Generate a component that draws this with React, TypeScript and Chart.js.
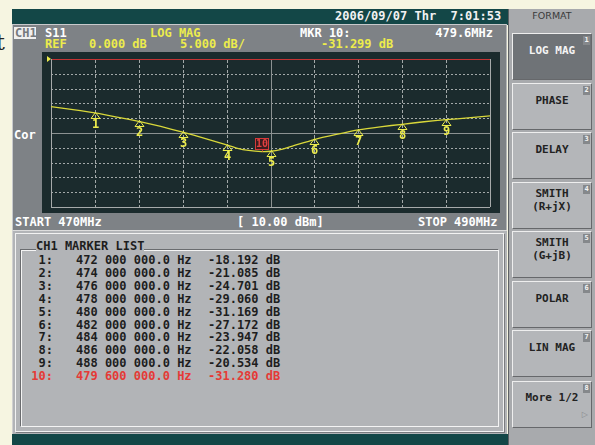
import React, { useEffect, useRef } from "react";
import { Chart, registerables } from "chart.js";

Chart.register(...registerables);

// ---- data ----
const traceFreqMHz = [470, 471, 472, 473, 474, 475, 476, 477, 478, 478.5, 479, 479.6, 480, 480.5, 481, 482, 483, 484, 485, 486, 487, 488, 489, 490];
const traceDb = [-16.1, -17.1, -18.2, -19.6, -21.1, -22.8, -24.7, -26.8, -29.0, -30.2, -30.9, -31.28, -31.17, -30.5, -29.4, -27.2, -25.5, -23.95, -22.9, -22.06, -21.2, -20.5, -19.9, -19.2];

const markerLabels = ["1", "2", "3", "4", "5", "6", "7", "8", "9"];
const markerFreqMHz = [472, 474, 476, 478, 480, 482, 484, 486, 488];
const markerDb = [-18.192, -21.085, -24.701, -29.06, -31.169, -27.172, -23.947, -22.058, -20.534];
const activeMarkerLabel = "10";
const activeMarkerFreqMHz = 479.6;
const activeMarkerDb = -31.28;

const xGridMHz = [470, 472, 474, 476, 478, 480, 482, 484, 486, 488, 490];
const yGridDb = [0, -5, -10, -15, -20, -25, -30, -35, -40, -45, -50];
const refLevelDb = 0;
const centerFreqMHz = 480;
const centerDb = -25;

const softKeyLabels = ["LOG MAG", "PHASE", "DELAY", "SMITH\n(R+jX)", "SMITH\n(G+jB)", "POLAR", "LIN MAG", "More 1/2"];

const MONO = '"DejaVu Sans Mono", "Liberation Mono", monospace';
const YELLOW = "#ecec4c";
const TRACE = "#d9d83a";

function fmtHz(mhz: number) {
  const s = String(Math.round(mhz * 1e6));
  const parts: string[] = [];
  for (let i = s.length; i > 0; i -= 3) parts.unshift(s.slice(Math.max(0, i - 3), i));
  return parts.join(" ") + ".0 Hz";
}

const plotDecor = {
  id: "plotDecor",
  beforeDatasetsDraw(chart: any) {
    const { ctx, chartArea: a, scales } = chart;
    const x = scales.x;
    const y = scales.y;
    ctx.save();
    ctx.lineWidth = 1;
    yGridDb.forEach((v) => {
      const py = Math.round(y.getPixelForValue(v)) + 0.5;
      ctx.beginPath();
      if (v === refLevelDb) {
        ctx.setLineDash([]);
        ctx.strokeStyle = "#c43434";
      } else if (v === centerDb) {
        ctx.setLineDash([]);
        ctx.strokeStyle = "#8c9292";
      } else if (v === yGridDb[yGridDb.length - 1]) {
        ctx.setLineDash([]);
        ctx.strokeStyle = "#a6aaaa";
      } else {
        ctx.setLineDash([2, 2]);
        ctx.strokeStyle = "#a3a9a9";
      }
      ctx.moveTo(a.left, py);
      ctx.lineTo(a.right, py);
      ctx.stroke();
    });
    xGridMHz.forEach((v, i) => {
      const px = Math.round(x.getPixelForValue(v)) + 0.5;
      ctx.beginPath();
      if (i === 0 || i === xGridMHz.length - 1) {
        ctx.setLineDash([]);
        ctx.strokeStyle = "#a6aaaa";
      } else if (v === centerFreqMHz) {
        ctx.setLineDash([]);
        ctx.strokeStyle = "#8c9292";
      } else {
        ctx.setLineDash([3, 2]);
        ctx.strokeStyle = "#a3a9a9";
      }
      ctx.moveTo(px, a.top + (i === 0 || i === xGridMHz.length - 1 ? 0 : 1));
      ctx.lineTo(px, a.bottom);
      ctx.stroke();
    });
    ctx.restore();
  },
  afterDatasetsDraw(chart: any) {
    const { ctx, chartArea: a, scales } = chart;
    const x = scales.x;
    const y = scales.y;
    ctx.save();
    // reference pointer
    const ry = y.getPixelForValue(refLevelDb);
    ctx.fillStyle = YELLOW;
    ctx.beginPath();
    ctx.moveTo(a.left - 4, ry - 3);
    ctx.lineTo(a.left, ry);
    ctx.lineTo(a.left - 4, ry + 3);
    ctx.closePath();
    ctx.fill();

    // markers
    ctx.strokeStyle = YELLOW;
    ctx.fillStyle = YELLOW;
    ctx.lineWidth = 1;
    ctx.font = `bold 12px ${MONO}`;
    ctx.textAlign = "center";
    ctx.textBaseline = "middle";
    markerFreqMHz.forEach((f, i) => {
      const px = Math.round(x.getPixelForValue(f)) + 0.5;
      const py = Math.round(y.getPixelForValue(markerDb[i])) + 0.5;
      ctx.beginPath();
      ctx.moveTo(px, py - 1);
      ctx.lineTo(px + 4.5, py + 5);
      ctx.lineTo(px - 4.5, py + 5);
      ctx.closePath();
      ctx.stroke();
      ctx.fillText(markerLabels[i], px, py + 11);
    });

    // active marker box
    const ax = x.getPixelForValue(activeMarkerFreqMHz);
    const ay = y.getPixelForValue(activeMarkerDb);
    const bx = Math.round(ax - 6.5) + 0.5;
    const by = Math.round(ay - 13.5) + 0.5;
    ctx.fillStyle = "#3a1c1e";
    ctx.fillRect(bx, by, 13, 11);
    ctx.strokeStyle = "#d43a3a";
    ctx.strokeRect(bx, by, 13, 11);
    ctx.beginPath();
    ctx.moveTo(Math.round(ax) + 0.5, by + 11);
    ctx.lineTo(Math.round(ax) + 0.5, ay);
    ctx.stroke();
    ctx.fillStyle = "#e04040";
    ctx.font = `bold 10px ${MONO}`;
    ctx.fillText(activeMarkerLabel, bx + 6.5, by + 6);
    ctx.restore();
  },
};

function Txt(props: any) {
  const { x, y, c = "#ffffff", s = 12, right, w, bg, children, bold = true, family = MONO } = props;
  const style: any = {
    position: "absolute",
    top: y - s / 2,
    fontSize: s,
    lineHeight: `${s}px`,
    color: c,
    fontFamily: family,
    fontWeight: bold ? "bold" : "normal",
    whiteSpace: "pre",
  };
  if (right !== undefined) {
    style.left = right - (w || 200);
    style.width = w || 200;
    style.textAlign = "right";
  } else {
    style.left = x;
  }
  if (bg) style.background = bg;
  return <div style={style}>{children}</div>;
}

function Box(props: any) {
  const { x, y, w, h, style } = props;
  return <div style={{ position: "absolute", left: x, top: y, width: w, height: h, boxSizing: "border-box", ...style }} />;
}

export default function App() {
  const ref = useRef<HTMLCanvasElement>(null);

  useEffect(() => {
    const chart = new Chart(ref.current as HTMLCanvasElement, {
      type: "line",
      data: {
        datasets: [
          {
            data: traceFreqMHz.map((f, i) => ({ x: f, y: traceDb[i] })),
            borderColor: TRACE,
            borderWidth: 1.3,
            pointRadius: 0,
            tension: 0.2,
            fill: false,
          },
        ],
      },
      options: {
        animation: false,
        responsive: false,
        devicePixelRatio: 1,
        layout: { padding: { left: 9, top: 7, right: 10, bottom: 6 } },
        scales: {
          x: { type: "linear", min: xGridMHz[0], max: xGridMHz[xGridMHz.length - 1], display: false },
          y: { type: "linear", min: yGridDb[yGridDb.length - 1], max: yGridDb[0], display: false },
        },
        plugins: { legend: { display: false }, tooltip: { enabled: false } },
      },
      plugins: [plotDecor],
    } as any);
    return () => chart.destroy();
  }, []);

  const keyTops = [33, 82.5, 132, 181.5, 231, 280.5, 330, 381];

  return (
    <div style={{ position: "fixed", left: 0, top: 0, width: 595, height: 445, background: "#f6f5e1", overflow: "hidden" }}>
      <div style={{ position: "absolute", left: -4, top: 30, fontSize: 22, fontFamily: '"DejaVu Serif", serif', color: "#222" }}>t</div>

      {/* top bar */}
      <Box x={12} y={9} w={496} h={16} style={{ background: "#134747" }} />
      <Txt x={335} y={16} c="#f2f2f2">2006/09/07 Thr  7:01:53</Txt>

      {/* main gray area */}
      <Box x={12} y={24} w={495} h={206} style={{ background: "#7e8286", borderTop: "1px solid #c8cacc", borderLeft: "1px solid #c8cacc", borderRight: "1px solid #b4b6b8" }} />
      <div style={{ position: "absolute", left: 14, top: 27, width: 22, height: 12, background: "#f0f0f0" }} />
      <Txt x={15} y={33} c="#767a7e">CH1</Txt>
      <Txt x={45} y={33}>S11</Txt>
      <Txt x={150} y={33} c={YELLOW}>LOG MAG</Txt>
      <Txt x={300} y={33}>MKR 10:</Txt>
      <Txt right={493} y={33}>479.6MHz</Txt>
      <Txt x={45} y={44} c={YELLOW}>REF</Txt>
      <Txt x={89} y={44} c={YELLOW}>0.000 dB</Txt>
      <Txt x={180} y={44} c={YELLOW}>5.000 dB/</Txt>
      <Txt x={321} y={44} c={YELLOW}>-31.299 dB</Txt>
      <Txt x={14} y={135}>Cor</Txt>

      {/* plot */}
      <Box x={42} y={52} w={458} h={161} style={{ background: "#1b2b2d" }} />
      <canvas ref={ref} width={458} height={161} style={{ position: "absolute", left: 42, top: 52, width: 458, height: 161 }} />

      <Txt x={15} y={221.5}>START 470MHz</Txt>
      <Txt x={237} y={221.5}>[ 10.00 dBm]</Txt>
      <Txt x={418} y={221.5}>STOP 490MHz</Txt>

      {/* marker list panel */}
      <Box x={12} y={230} w={495} h={204} style={{ background: "#b2b4b7", borderTop: "1px solid #dcdcdc", borderLeft: "1px solid #d0d0d0" }} />
      <Box x={15} y={233} w={489} h={199} style={{ border: "1px solid #f2f2f2", boxShadow: "1px 1px 0 #7a7c7f" }} />
      <Box x={21} y={250} w={478} h={177} style={{ border: "1px solid #f4f4f4", boxShadow: "-1px -1px 0 #6a6c6f" }} />
      <Txt x={36} y={246} c="#1e1e1e" bg="#b2b4b7">CH1 MARKER LIST</Txt>
      {markerFreqMHz.map((f, i) => (
        <React.Fragment key={i}>
          <Txt right={53} w={40} y={260 + i * 12.9} c="#1e1e1e">{markerLabels[i] + ":"}</Txt>
          <Txt x={76} y={260 + i * 12.9} c="#1e1e1e">{fmtHz(f)}</Txt>
          <Txt x={208} y={260 + i * 12.9} c="#1e1e1e">{markerDb[i].toFixed(3) + " dB"}</Txt>
        </React.Fragment>
      ))}
      <Txt right={53} w={40} y={260 + 9 * 12.9} c="#e53a36">{activeMarkerLabel + ":"}</Txt>
      <Txt x={76} y={260 + 9 * 12.9} c="#e53a36">{fmtHz(activeMarkerFreqMHz)}</Txt>
      <Txt x={208} y={260 + 9 * 12.9} c="#e53a36">{activeMarkerDb.toFixed(3) + " dB"}</Txt>

      {/* bottom bar */}
      <Box x={12} y={434} w={496} h={11} style={{ background: "#134747" }} />

      {/* soft keys */}
      <Box x={508} y={9} w={87} h={436} style={{ background: "#a8aaad", borderLeft: "1px solid #5e6164" }} />
      <div style={{ position: "absolute", left: 508, top: 11, width: 88, textAlign: "center", fontSize: 9.5, lineHeight: "10px", fontFamily: '"DejaVu Sans", sans-serif', color: "#3a3a3a" }}>FORMAT</div>
      {softKeyLabels.map((lab, i) => {
        const top = keyTops[i];
        const active = i === 0;
        const lines = lab.split("\n");
        return (
          <div key={i} style={{ position: "absolute", left: 512, top, width: 80, height: 47, boxSizing: "border-box", background: active ? "#6f7377" : "#b4b6b9", borderTop: "1px solid #eeeeee", borderLeft: "1px solid #eeeeee", borderBottom: "1px solid #66686b", borderRight: "1px solid #66686b" }}>
            <div style={{ position: "absolute", right: 1, top: 2, width: 7, height: 9, background: "#85888b", color: "#f4f4f4", fontSize: 7, lineHeight: "9px", textAlign: "center", fontFamily: MONO, fontWeight: "bold" }}>{i + 1}</div>
            <div style={{ position: "absolute", left: 0, width: 78, top: lines.length > 1 ? 4 : (i === 7 ? 9 : 10), textAlign: "center", fontSize: 11, lineHeight: "13px", fontFamily: MONO, fontWeight: "bold", color: active ? "#f4f4f4" : "#222", whiteSpace: "pre" }}>{lab}</div>
            {i === 7 ? <div style={{ position: "absolute", right: 3, top: 28, fontSize: 8, color: "#8a8c8f", fontFamily: '"DejaVu Sans", sans-serif' }}>▷</div> : null}
          </div>
        );
      })}
    </div>
  );
}
